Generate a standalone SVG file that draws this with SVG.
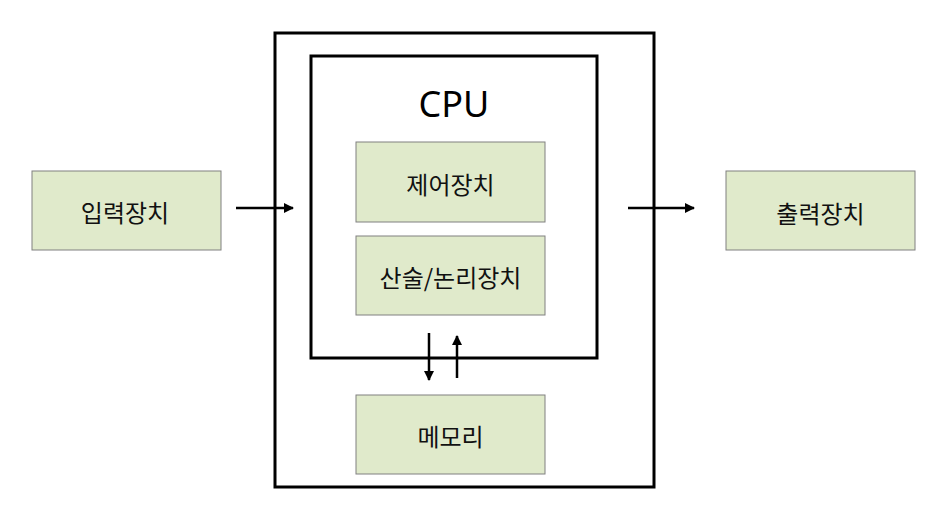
<svg xmlns="http://www.w3.org/2000/svg" width="938" height="526" viewBox="0 0 938 526">
<style>
.box{fill:#e0eacb;stroke:#808080;stroke-width:1}
.frame{fill:none;stroke:#000;stroke-width:3}
.t{font-family:"Noto Sans CJK KR","Noto Sans",sans-serif;font-size:24px;fill:#111;text-anchor:middle;dominant-baseline:central}
.cpu{font-family:"Noto Sans","Noto Sans CJK KR",sans-serif;font-size:36px;fill:#000;text-anchor:middle;dominant-baseline:central}
.c{stroke:#000;stroke-width:2.5;fill:none}
</style>
<defs>
<marker id="ah" viewBox="0 0 10 10" refX="9" refY="5" markerWidth="4" markerHeight="4" orient="auto" markerUnits="strokeWidth">
<path d="M0,0 L10,5 L0,10 Z" fill="#000"/>
</marker>
</defs>
<rect width="938" height="526" fill="#fff"/>
<g id="computer"><rect class="frame" x="275" y="33" width="379" height="454"/></g>
<g id="cpu"><rect class="frame" x="311" y="56" width="286" height="302"/><text class="cpu" x="454" y="103">CPU</text></g>
<g id="input"><rect class="box" x="32" y="171" width="189" height="79"/><text class="t" x="125" y="211">입력장치</text></g>
<g id="control"><rect class="box" x="356" y="142" width="189" height="80"/><text class="t" x="450.5" y="183">제어장치</text></g>
<g id="alu"><rect class="box" x="356" y="236" width="189" height="79"/><text class="t" x="450.5" y="276">산술/논리장치</text></g>
<g id="memory"><rect class="box" x="356" y="395" width="189" height="79"/><text class="t" x="450.5" y="435">메모리</text></g>
<g id="output"><rect class="box" x="726" y="171" width="189" height="79"/><text class="t" x="820.5" y="212">출력장치</text></g>
<g id="connectors">
<line class="c" x1="236" y1="208" x2="293" y2="208" marker-end="url(#ah)"/>
<line class="c" x1="628" y1="208" x2="694" y2="208" marker-end="url(#ah)"/>
<line class="c" x1="429" y1="333" x2="429" y2="380" marker-end="url(#ah)"/>
<line class="c" x1="457" y1="378" x2="457" y2="336" marker-end="url(#ah)"/>
</g>
</svg>
